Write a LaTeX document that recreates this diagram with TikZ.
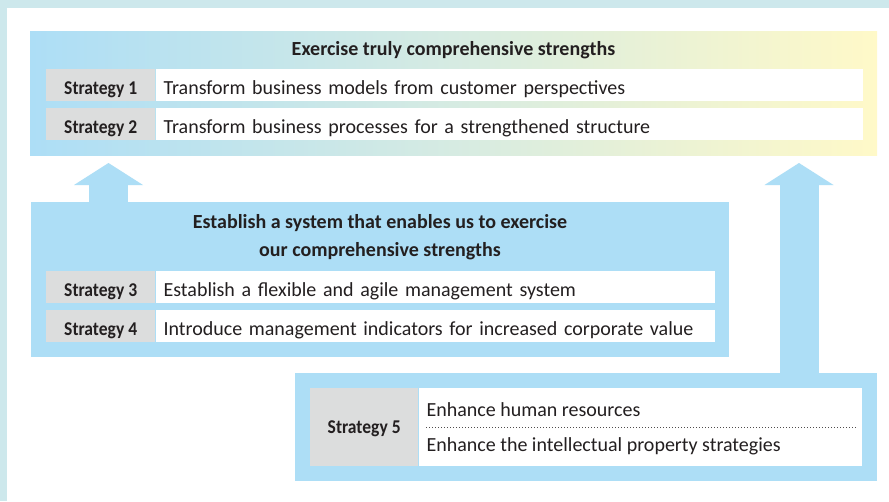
\documentclass[tikz,border=0pt]{standalone}
\usepackage{fontspec}
\setmainfont{Carlito}
\usetikzlibrary{positioning,arrows.meta}
\definecolor{frameblue}{HTML}{CDE8EC}
\definecolor{boxblue}{HTML}{ADDEF6}
\definecolor{labelgray}{HTML}{DCDDDD}
\definecolor{paleyellow}{HTML}{FFF9C8}
\definecolor{midgreen}{HTML}{D6EBE2}
\definecolor{inkblack}{HTML}{231F20}

\begin{document}
\begin{tikzpicture}[x=1pt,y=-1pt,
   every node/.style={text=inkblack, font=\fontsize{20}{24}\selectfont},
   panel/.style={anchor=north west, inner sep=0pt},
   stratlabel/.style={fill=labelgray, anchor=north west, inner sep=0pt, minimum width=109pt,
      minimum height=32pt, text height=18pt, text depth=0pt,
      font=\fontsize{19.5}{22}\selectfont\bfseries\addfontfeature{FakeStretch=0.9}},
   strattext/.style={fill=white, inner xsep=8pt, inner ysep=0pt, minimum height=32pt,
      text height=18pt, text depth=0pt, align=left},
   heading/.style={font=\fontsize{20}{28}\selectfont\bfseries, align=center},
   uparrow/.style={boxblue, line width=39pt, -{Triangle[width=69pt,length=22pt,line width=0pt]}}]
\useasboundingbox (0,0) rectangle (889,501);
\fill[frameblue] (0,0) rectangle (889,501);
\fill[white] (7,8) rectangle (889,501);

\node[panel, minimum width=847pt, minimum height=124pt, left color=boxblue, right color=paleyellow,
   middle color=midgreen] (topbox) at (30,31) {};
\node[heading] (toptitle) at (453.5,50) {Exercise truly comprehensive strengths};
\node[stratlabel] (s1) at (46,69) {Strategy 1};
\node[strattext, right=0pt of s1, text width=691pt] (t1) {Transform business models from customer perspectives};
\node[stratlabel] (s2) at (46,108) {Strategy 2};
\node[strattext, right=0pt of s2, text width=691pt] (t2) {Transform business processes for a strengthened structure};

\node[panel, fill=boxblue, minimum width=698pt, minimum height=155pt] (midbox) at (31,202) {};
\node[heading] (midtitle) at (380,237) {Establish a system that enables us to exercise\\our comprehensive strengths};
\node[stratlabel] (s3) at (46,271) {Strategy 3};
\node[strattext, right=0pt of s3, text width=543pt] (t3) {Establish a flexible and agile management system};
\node[stratlabel] (s4) at (46,310) {Strategy 4};
\node[strattext, right=0pt of s4, text width=543pt] (t4) {Introduce management indicators for increased corporate value};

\node[panel, fill=boxblue, minimum width=582pt, minimum height=108pt] (botbox) at (295,373) {};
\node[stratlabel, minimum width=108pt, minimum height=78pt, text height=12pt] (s5) at (310,388) {Strategy 5};
\node[panel, fill=white, right=0pt of s5, minimum width=443pt, minimum height=78pt] (t5) {};
\node[anchor=west] (hr) at (423,410) {Enhance human resources};
\node[anchor=west] (ip) at (423,446) {Enhance the intellectual property strategies};
\coordinate (dotL) at (426,427);
\coordinate (dotR) at (856,427);
\draw[inkblack!80, line width=1pt, dash pattern=on 1pt off 2pt] (dotL) -- (dotR);

\coordinate (tipL) at (108.5,163);
\coordinate (tipR) at (799,163);
\draw[uparrow] (midbox.north -| tipL) -- (tipL);
\draw[uparrow] (botbox.north -| tipR) -- (tipR);
\end{tikzpicture}
\end{document}
